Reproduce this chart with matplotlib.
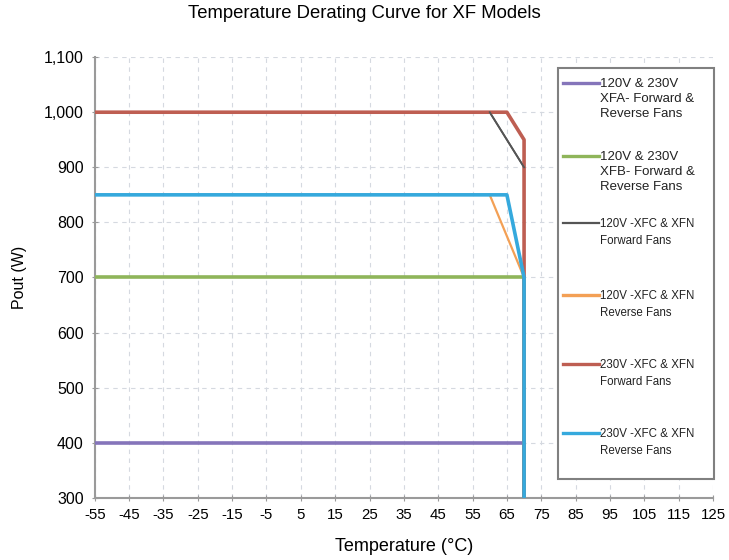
import matplotlib
matplotlib.use("Agg")
import matplotlib.pyplot as plt
from matplotlib.patches import Rectangle
from matplotlib.lines import Line2D

# Data (temperature in °C, output power in W)
xfa_t = [-55, 70, 70]
xfa_p = [400, 400, 300]
xfb_t = [-55, 70, 70]
xfb_p = [700, 700, 300]
c120f_t = [-55, 60, 70, 70]
c120f_p = [1000, 1000, 900, 300]
c120r_t = [-55, 60, 70, 70]
c120r_p = [850, 850, 700, 300]
c230f_t = [-55, 65, 70, 70]
c230f_p = [1000, 1000, 950, 300]
c230r_t = [-55, 65, 70, 70]
c230r_p = [850, 850, 700, 300]

labels = ["120V & 230V\nXFA- Forward &\nReverse Fans",
          "120V & 230V\nXFB- Forward &\nReverse Fans",
          "120V -XFC & XFN\nForward Fans",
          "120V -XFC & XFN\nReverse Fans",
          "230V -XFC & XFN\nForward Fans",
          "230V -XFC & XFN\nReverse Fans"]
xticks = list(range(-55, 126, 10))
yticks = list(range(300, 1101, 100))

plt.rcParams['font.family'] = ['Liberation Sans', 'DejaVu Sans']

fig = plt.figure(figsize=(7.29, 5.6), dpi=100)
ax = fig.add_axes([0.130, 0.111, 0.848, 0.787])

col = ["#8575BA", "#8FB55A", "#555555", "#F3A055", "#BE5E52", "#35A9DD"]
lw = [2.6, 2.6, 1.3, 1.6, 2.6, 2.6]

ax.plot(xfa_t, xfa_p, color=col[0], lw=lw[0], zorder=3)
ax.plot(xfb_t, xfb_p, color=col[1], lw=lw[1], zorder=3)
ax.plot(c120f_t, c120f_p, color=col[2], lw=lw[2], zorder=3)
ax.plot(c230f_t, c230f_p, color=col[4], lw=lw[4], zorder=3.5)
ax.plot(c120f_t[1:3], c120f_p[1:3], color=col[2], lw=lw[2], zorder=3.6)
ax.plot(c120r_t, c120r_p, color=col[3], lw=lw[3], zorder=4)
ax.plot(c230r_t, c230r_p, color=col[5], lw=lw[5], zorder=5)

ax.set_xlim(-55, 125)
ax.set_ylim(300, 1100)
ax.set_xticks(xticks)
ax.set_xticklabels([str(v) for v in xticks])
ax.set_yticks(yticks)
ax.set_yticklabels([f"{v:,}" for v in yticks])
ax.tick_params(axis="x", labelsize=10.8, length=4, color="#999999", direction="inout", pad=5)
ax.tick_params(axis="y", labelsize=11.5, length=4, color="#999999", direction="inout", pad=6)
ax.grid(True, color="#D5D9E0", linestyle=(0, (4, 4)), linewidth=0.8)
ax.set_axisbelow(True)
for s in ["top", "right"]:
    ax.spines[s].set_visible(False)
for s in ["left", "bottom"]:
    ax.spines[s].set_color("#9A9A9A")
    ax.spines[s].set_linewidth(1.5)

ax.set_xlabel("Temperature (°C)", fontsize=13, labelpad=12)
ax.set_ylabel("Pout (W)", fontsize=11.5, labelpad=12)
fig.suptitle("Temperature Derating Curve for XF Models", fontsize=13.3, y=0.991)

# Manual legend (axes fraction coordinates)
frame = Rectangle((0.749, 0.043), 0.2526, 0.932, transform=ax.transAxes,
                  facecolor="white", edgecolor="#808080", lw=1.5, zorder=10,
                  clip_on=False)
ax.add_patch(frame)
hy = [0.941, 0.7755, 0.624, 0.460, 0.304, 0.147]
fs = [9.5, 9.5, 8.3, 8.3, 8.3, 8.3]
ls = [1.34, 1.34, 1.5, 1.5, 1.5, 1.5]
for i in range(6):
    ax.add_line(Line2D([0.757, 0.816], [hy[i], hy[i]], transform=ax.transAxes,
                       color=col[i], lw=2.4 if i != 2 else 1.6, zorder=11,
                       clip_on=False))
    ax.text(0.8175, hy[i] + 0.0125 * fs[i] / 9.5, labels[i], transform=ax.transAxes,
            fontsize=fs[i], va="top", ha="left", linespacing=ls[i],
            zorder=12, color="#222222")

fig.savefig("out.png", dpi=100)
